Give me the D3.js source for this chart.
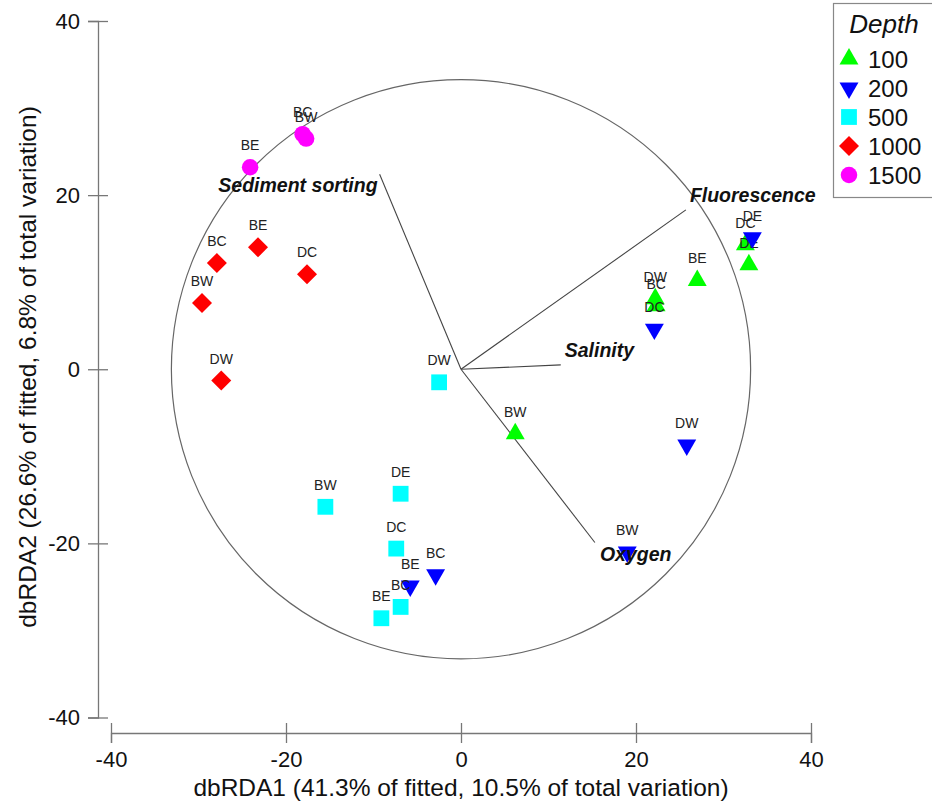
<!DOCTYPE html>
<html>
<head>
<meta charset="utf-8">
<script src="https://cdn.jsdelivr.net/npm/d3@7"></script>
<style>
  body { margin: 0; background: #fff; }
  svg { display: block; font-family: "Liberation Sans", Arial, sans-serif; }
</style>
</head>
<body>
<svg id="chart"></svg>
<script>
const depths = [100, 200, 500, 1000, 1500];
const depthColors = ["#00ff00", "#0000ff", "#00ffff", "#ff0000", "#ff00ff"];
const depthShapes = ["up", "down", "square", "diamond", "circle"];
const tickValues = [-40, -20, 0, 20, 40];

// [depth, site, dbRDA1, dbRDA2]
const samples = [
  [100, "DW", 22.2, 8.1],
  [100, "BC", 22.3, 7.3],
  [100, "DC", 32.5, 14.3],
  [100, "DE", 32.9, 12.0],
  [100, "BE", 27.0, 10.2],
  [100, "BW", 6.2, -7.4],
  [200, "DC", 22.1, 4.6],
  [200, "DE", 33.3, 15.1],
  [200, "DW", 25.8, -8.7],
  [200, "BW", 19.0, -21.0],
  [200, "BC", -2.9, -23.6],
  [200, "BE", -5.8, -24.9],
  [500, "DW", -2.5, -1.5],
  [500, "BW", -15.5, -15.8],
  [500, "DE", -6.9, -14.3],
  [500, "DC", -7.4, -20.6],
  [500, "BC", -6.9, -27.3],
  [500, "BE", -9.1, -28.6],
  [1000, "BE", -23.2, 14.0],
  [1000, "BC", -27.9, 12.2],
  [1000, "DC", -17.6, 10.9],
  [1000, "BW", -29.6, 7.6],
  [1000, "DW", -27.4, -1.3],
  [1500, "BE", -24.1, 23.2],
  [1500, "BC", -18.1, 27.0],
  [1500, "BW", -17.7, 26.5],
];

const vectorNames = ["Sediment sorting", "Fluorescence", "Salinity", "Oxygen"];
const vectorX = [-9.3, 25.7, 11.4, 15.3];
const vectorY = [22.4, 18.3, 0.5, -19.9];
const circleRadius = 33.1;

const xTitle = "dbRDA1 (41.3% of fitted, 10.5% of total variation)";
const yTitle = "dbRDA2 (26.6% of fitted, 6.8% of total variation)";

const width = 932;
const height = 803;
const axisColor = "#777";
const textColor = "#111";

const svg = d3.select("#chart").attr("width", width).attr("height", height);

const x = d3.scaleLinear().domain([-40, 40]).range([111, 811]);
const y = d3.scaleLinear().domain([-40, 40]).range([717.5, 21]);

// axes: ticks cross the line on both sides, plain hyphen for negatives
const fmt = (d) => String(d);
const xAxis = svg.append("g")
  .attr("transform", "translate(0,733)")
  .call(d3.axisBottom(x).tickValues(tickValues).tickFormat(fmt)
    .tickSizeOuter(0).tickSize(10).tickPadding(8));
xAxis.selectAll(".tick line").attr("y1", -10).attr("y2", 10);

const yAxis = svg.append("g")
  .attr("transform", "translate(98,0)")
  .call(d3.axisLeft(y).tickValues(tickValues).tickFormat(fmt)
    .tickSizeOuter(0).tickSize(10).tickPadding(8));
yAxis.selectAll(".tick line").attr("x1", 10).attr("x2", -10);

svg.selectAll(".domain, .tick line").attr("stroke", axisColor).attr("stroke-width", 1.3);
svg.selectAll(".tick text")
  .attr("font-size", 22)
  .attr("fill", textColor)
  .attr("font-family", "'Liberation Sans', Arial, sans-serif");

svg.append("text")
  .attr("x", 461).attr("y", 796)
  .attr("text-anchor", "middle")
  .attr("font-size", 24.5)
  .attr("fill", textColor)
  .text(xTitle);

svg.append("text")
  .attr("transform", "translate(36,367) rotate(-90)")
  .attr("text-anchor", "middle")
  .attr("font-size", 24.5)
  .attr("fill", textColor)
  .text(yTitle);

// correlation circle
svg.append("circle")
  .attr("cx", x(0)).attr("cy", y(0))
  .attr("r", x(circleRadius) - x(0))
  .attr("fill", "none")
  .attr("stroke", "#666")
  .attr("stroke-width", 1.2);

// vectors
const labelPlace = {
  "Sediment sorting": { anchor: "end", dx: -2, dy: 18 },
  "Fluorescence": { anchor: "start", dx: 4, dy: -8 },
  "Salinity": { anchor: "start", dx: 4, dy: -8 },
  "Oxygen": { anchor: "start", dx: 5, dy: 18 },
};
const vectors = vectorNames.map((name, i) => ({ name, vx: vectorX[i], vy: vectorY[i] }));
svg.append("g").selectAll("line")
  .data(vectors)
  .join("line")
  .attr("x1", x(0)).attr("y1", y(0))
  .attr("x2", (d) => x(d.vx)).attr("y2", (d) => y(d.vy))
  .attr("stroke", "#444")
  .attr("stroke-width", 1.1);

// marker shapes
const symbolFor = (shape) => {
  if (shape === "up" || shape === "down") return d3.symbol(d3.symbolTriangle, 155)();
  if (shape === "square") return d3.symbol(d3.symbolSquare, 250)();
  if (shape === "diamond") return d3.symbol(d3.symbolSquare, 200)();
  return d3.symbol(d3.symbolCircle, 215)();
};
const rotFor = (shape) => (shape === "down" ? 180 : shape === "diamond" ? 45 : 0);

const pts = svg.append("g").selectAll("g")
  .data(samples)
  .join("g")
  .attr("transform", (d) => `translate(${x(d[2])},${y(d[3])})`);

pts.append("path")
  .attr("d", (d) => symbolFor(depthShapes[depths.indexOf(d[0])]))
  .attr("transform", (d) => `rotate(${rotFor(depthShapes[depths.indexOf(d[0])])})`)
  .attr("fill", (d) => depthColors[depths.indexOf(d[0])]);

pts.append("text")
  .attr("y", -17)
  .attr("text-anchor", "middle")
  .attr("font-size", 14)
  .attr("fill", "#222")
  .text((d) => d[1]);

// vector labels on top
svg.append("g").selectAll("text")
  .data(vectors)
  .join("text")
  .attr("x", (d) => x(d.vx) + labelPlace[d.name].dx)
  .attr("y", (d) => y(d.vy) + labelPlace[d.name].dy)
  .attr("text-anchor", (d) => labelPlace[d.name].anchor)
  .attr("font-size", 19.5)
  .attr("font-weight", "bold")
  .attr("font-style", "italic")
  .attr("fill", textColor)
  .text((d) => d.name);

// legend
const legend = svg.append("g");
legend.append("rect")
  .attr("x", 833.5).attr("y", 3.5)
  .attr("width", 110).attr("height", 194)
  .attr("fill", "#fff")
  .attr("stroke", "#888")
  .attr("stroke-width", 1.2);
legend.append("text")
  .attr("x", 884).attr("y", 33)
  .attr("text-anchor", "middle")
  .attr("font-size", 26)
  .attr("font-style", "italic")
  .attr("fill", textColor)
  .text("Depth");

const items = legend.selectAll("g.item")
  .data(depths)
  .join("g")
  .attr("class", "item")
  .attr("transform", (d, i) => `translate(849,${59 + i * 29})`);
items.append("path")
  .attr("d", (d, i) => symbolFor(depthShapes[i]))
  .attr("transform", (d, i) => `rotate(${rotFor(depthShapes[i])})`)
  .attr("fill", (d, i) => depthColors[i]);
items.append("text")
  .attr("x", 19).attr("y", 8.5)
  .attr("font-size", 24)
  .attr("fill", textColor)
  .text((d) => d);
</script>
</body>
</html>
